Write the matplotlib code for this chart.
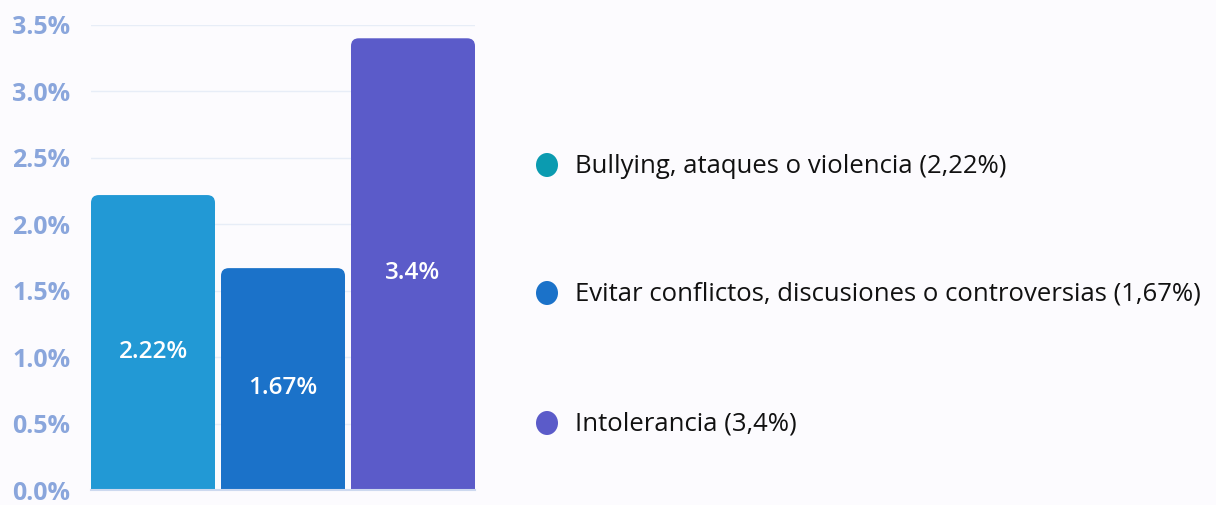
import numpy as np
import matplotlib
matplotlib.use("Agg")
from matplotlib import pyplot as plt
from matplotlib.patches import FancyBboxPatch, Ellipse

# data
categories = ["Bullying, ataques o violencia", "Evitar conflictos, discusiones o controversias", "Intolerancia"]
values = [2.22, 1.67, 3.4]
bar_labels = ["2.22%", "1.67%", "3.4%"]
legend_labels = ["Bullying, ataques o violencia (2,22%)",
                 "Evitar conflictos, discusiones o controversias (1,67%)",
                 "Intolerancia (3,4%)"]
yticks = [0.0, 0.5, 1.0, 1.5, 2.0, 2.5, 3.0, 3.5]
bar_colors = ["#2299d5", "#1b72c9", "#5b5bc9"]
legend_colors = ["#0b9bb0", "#1b72c9", "#5b5bc9"]

bg = "#fcfbfe"
plt.rcParams['font.family'] = ['Open Sans', 'DejaVu Sans']

fig = plt.figure(figsize=(12.16, 5.05), dpi=100, facecolor=bg)
ax = fig.add_axes([91/1216, 1-490/505, (475-91)/1216, 465/505])
ax.set_facecolor(bg)

x = np.arange(len(values))
w = 0.954
bars = ax.bar(x, values, width=w, color=bar_colors, zorder=2)

# rounded top corners
r = 0.06
for b, c in zip(bars, bar_colors):
    b.set_height(b.get_height() - r)
    top = b.get_y() + b.get_height() + r
    p = FancyBboxPatch((b.get_x(), top - 3*r), b.get_width(), 3*r,
                       boxstyle="round,pad=0,rounding_size=0.06",
                       mutation_aspect=0.98, fc=c, ec="none", zorder=2)
    ax.add_patch(p)

for xi, v, lab in zip(x, values, bar_labels):
    ax.text(xi, v/2 - 0.07, lab, ha="center", va="center", color="white",
            fontsize=17.5, fontweight="semibold", zorder=3)

ax.set_xlim(-w/2, len(values) - 1 + w/2)
ax.set_ylim(0, 3.5)
ax.set_yticks(yticks)
ax.set_yticklabels([f"{t:.1f}%" for t in yticks])
ax.set_xticks([])
ax.tick_params(axis="y", length=0, pad=15, labelsize=18, labelcolor="#8aa6dc")
for t in ax.get_yticklabels():
    t.set_fontweight("bold")
ax.yaxis.grid(True, color="#e7edf7", lw=1, zorder=0)
ax.set_axisbelow(True)
for s in ["top", "right", "left"]:
    ax.spines[s].set_visible(False)
ax.spines["bottom"].set_color("#cdd9ef")
ax.spines["bottom"].set_linewidth(1.5)
ax.spines["bottom"].set_zorder(3)

# legend
lx = 547/1216
ly = [1-165/505, 1-293/505, 1-423/505]
for yy, lab, c in zip(ly, legend_labels, legend_colors):
    fig.patches.append(Ellipse((lx, yy), 22/1216, 24/505,
                       transform=fig.transFigure, fc=c, ec="none"))
    fig.text(575/1216, yy - 0.002, lab, ha="left", va="center", fontsize=18.5, color="#111111")

fig.savefig("out.png", dpi=100, facecolor=bg)
